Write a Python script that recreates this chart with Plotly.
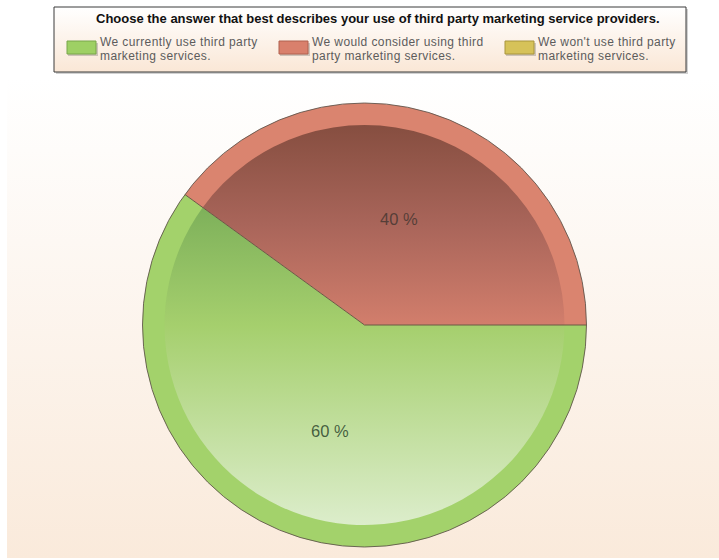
import numpy as np
import plotly.graph_objects as go

# ---------------- data ----------------
legend_title = "Choose the answer that best describes your use of third party marketing service providers."
labels = [
    "We currently use third party marketing services.",
    "We would consider using third party marketing services.",
    "We won't use third party marketing services.",
]
legend_lines = [
    ["We currently use third party", "marketing services."],
    ["We would consider using third", "party marketing services."],
    ["We won't use third party", "marketing services."],
]
values = [60, 40, 0]

rim_colors = ["#A3D26B", "#DA846F", "#D8C25A"]
swatch_colors = ["#9ED064", "#D9806C", "#D6C259"]
swatch_edges = ["#78A64A", "#B0604F", "#A8953C"]
inner_scales = [
    [[0, "#6A984B"], [0.2, "#7DB05A"], [0.5, "#A5CF6D"], [1, "#DCEDCB"]],
    [[0, "#864E40"], [0.5, "#A9655A"], [1, "#D27E6C"]],
    [[0, "#B8A040"], [1, "#E8D880"]],
]
label_colors = ["rgba(45,70,45,0.85)", "rgba(70,55,50,0.85)", "rgba(60,60,40,0.85)"]

# ---------------- geometry ----------------
W, H = 719, 560
CX, CY, R = 364.5, 325.0, 222.0
RI = 200.0   # inner (gradient) radius
total = sum(values)

fig = go.Figure()

# page background gradient
fig.add_trace(go.Scatter(
    x=[7, 719, 719, 7, 7], y=[78, 78, 558, 558, 78],
    mode="lines", line=dict(width=0), fill="toself",
    fillgradient=dict(type="vertical", start=78, stop=558,
                      colorscale=[[0, "#FFFFFF"], [0.15, "#FEFCFA"], [1, "#FAEADB"]]),
    hoverinfo="skip", showlegend=False))

# legend box shadow + box
fig.add_trace(go.Scatter(
    x=[56, 688, 688, 56, 56], y=[9, 9, 74, 74, 9],
    mode="lines", line=dict(width=0), fill="toself", fillcolor="rgba(0,0,0,0.18)",
    hoverinfo="skip", showlegend=False))
fig.add_trace(go.Scatter(
    x=[54, 686, 686, 54, 54], y=[7, 7, 72, 72, 7],
    mode="lines", line=dict(width=1, color="#3a3a3a"), fill="toself",
    fillgradient=dict(type="vertical", start=7, stop=72,
                      colorscale=[[0, "#FFFFFF"], [1, "#FAE7D6"]]),
    hoverinfo="skip", showlegend=False))

# inner gradient slices (computed from the values)
a0 = 0.0
mids = []
for i, v in enumerate(values):
    sweep = 360.0 * v / total
    a1 = a0 - sweep
    mids.append((a0 + a1) / 2)
    if v > 0:
        th = np.radians(np.linspace(a0, a1, 200))
        rr = RI + 3
        xs = np.concatenate([[CX], CX + rr * np.cos(th), [CX]])
        ys = np.concatenate([[CY], CY - rr * np.sin(th), [CY]])
        top = CY - RI
        bot = CY + RI if i == 0 else CY
        fig.add_trace(go.Scatter(
            x=xs, y=ys, mode="lines", line=dict(width=0), fill="toself",
            fillgradient=dict(type="vertical", start=top, stop=bot,
                              colorscale=inner_scales[i]),
            hoverinfo="skip", showlegend=False))
    a0 = a1

# pie rim (the library's pie, donut-shaped)
fig.add_trace(go.Pie(
    labels=labels, values=values, sort=False, direction="clockwise", rotation=90,
    hole=RI / R, marker=dict(colors=rim_colors, line=dict(width=0)),
    textinfo="none", hoverinfo="label+percent", showlegend=False,
    domain=dict(x=[(CX - R) / W, (CX + R) / W],
                y=[(H - CY - R) / H, (H - CY + R) / H])))

shapes = []
annotations = []
# outer border
shapes.append(dict(type="circle", xref="x", yref="y", x0=CX - R, x1=CX + R,
                   y0=CY - R, y1=CY + R, line=dict(color="rgba(90,80,70,0.85)", width=1),
                   layer="above"))
# radial boundaries
a0 = 0.0
for v in values:
    if v > 0:
        th = np.radians(a0)
        shapes.append(dict(type="line", xref="x", yref="y", x0=CX, y0=CY,
                           x1=CX + R * np.cos(th), y1=CY - R * np.sin(th),
                           line=dict(color="#6A5A44", width=1), layer="above"))
    a0 -= 360.0 * v / total

# slice labels
for i, v in enumerate(values):
    if v > 0:
        th = np.radians(mids[i])
        annotations.append(dict(x=CX + 0.5 * R * np.cos(th), y=CY - 0.5 * R * np.sin(th),
                                xref="x", yref="y", text=f"{v} %", showarrow=False,
                                font=dict(family="Liberation Sans, Arial", size=16.5,
                                          color=label_colors[i])))

# legend title
annotations.append(dict(x=378, y=18, xref="x", yref="y", text=f"<b>{legend_title}</b>",
                        showarrow=False, xanchor="center", yanchor="middle",
                        font=dict(family="Liberation Sans, Arial",
                                  size=13, color="#111111")))
# legend entries
sw_x = [67, 279, 505]
for i in range(len(labels)):
    x0 = sw_x[i]
    shapes.append(dict(type="rect", xref="x", yref="y", x0=x0 + 1, x1=x0 + 31, y0=43, y1=56,
                       fillcolor="rgba(0,0,0,0.18)", line=dict(width=0), layer="above"))
    shapes.append(dict(type="rect", xref="x", yref="y", x0=x0, x1=x0 + 29, y0=41, y1=54,
                       fillcolor=swatch_colors[i], line=dict(color=swatch_edges[i], width=1),
                       layer="above"))
    txt = "<br>".join(
        f'<span style="font-size:12px;letter-spacing:0.4px">{s}</span>' for s in legend_lines[i])
    annotations.append(dict(x=x0 + 31, y=49, xref="x", yref="y", text=txt,
                            showarrow=False, xanchor="left", yanchor="middle", align="left",
                            font=dict(family="Liberation Sans, Arial", size=14 / 1.3,
                                      color="#5c5c5c")))

fig.update_layout(
    width=W, height=H, margin=dict(l=0, r=0, t=0, b=0),
    paper_bgcolor="white", plot_bgcolor="rgba(0,0,0,0)",
    xaxis=dict(range=[0, W], visible=False, fixedrange=True),
    yaxis=dict(range=[H, 0], visible=False, fixedrange=True),
    shapes=shapes, annotations=annotations, showlegend=False,
)

fig.write_html("out.html", config={"displayModeBar": False},
               post_script="document.body.style.margin='0';document.body.style.overflow='hidden';")
